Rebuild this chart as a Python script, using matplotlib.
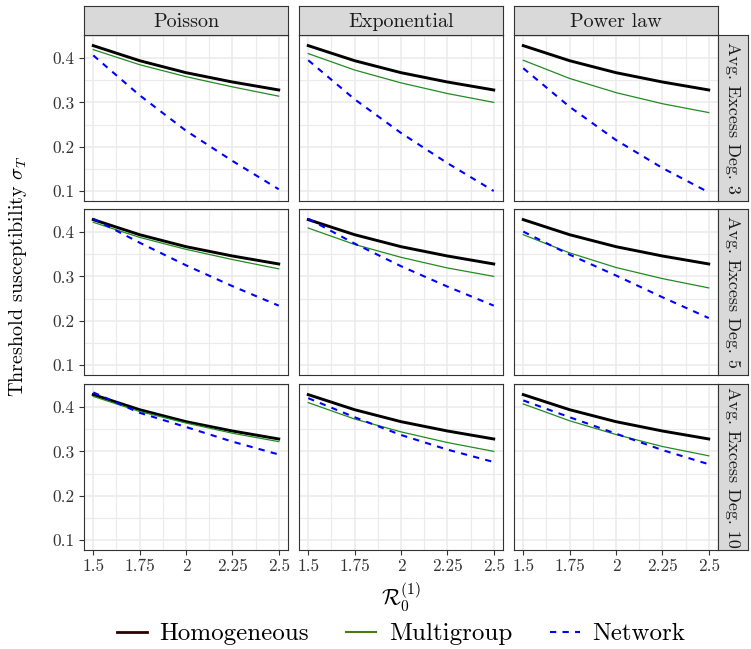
import matplotlib
matplotlib.use("Agg")
import matplotlib.pyplot as plt
from matplotlib.lines import Line2D

plt.rcParams['font.family'] = ['cmr10', 'DejaVu Serif']
plt.rcParams['mathtext.fontset'] = 'cm'
plt.rcParams['axes.unicode_minus'] = False

# ---------------- data ----------------
r0 = [1.5, 1.75, 2.0, 2.25, 2.5]
distributions = ["Poisson", "Exponential", "Power law"]
degrees = ["Avg. Excess Deg. 3", "Avg. Excess Deg. 5", "Avg. Excess Deg. 10"]

homogeneous = [0.428, 0.394, 0.367, 0.346, 0.328]

mg_poi_3 = [0.419, 0.385, 0.358, 0.335, 0.314]
net_poi_3 = [0.406, 0.316, 0.236, 0.168, 0.104]
mg_exp_3 = [0.410, 0.373, 0.344, 0.320, 0.300]
net_exp_3 = [0.395, 0.307, 0.231, 0.163, 0.100]
mg_pow_3 = [0.395, 0.354, 0.322, 0.297, 0.277]
net_pow_3 = [0.377, 0.290, 0.215, 0.152, 0.097]

mg_poi_5 = [0.422, 0.388, 0.361, 0.338, 0.317]
net_poi_5 = [0.430, 0.376, 0.325, 0.278, 0.234]
mg_exp_5 = [0.409, 0.372, 0.343, 0.319, 0.300]
net_exp_5 = [0.430, 0.374, 0.323, 0.277, 0.234]
mg_pow_5 = [0.394, 0.353, 0.320, 0.295, 0.274]
net_pow_5 = [0.401, 0.349, 0.302, 0.253, 0.206]

mg_poi_10 = [0.424, 0.390, 0.364, 0.341, 0.322]
net_poi_10 = [0.433, 0.387, 0.355, 0.322, 0.293]
mg_exp_10 = [0.410, 0.373, 0.344, 0.320, 0.300]
net_exp_10 = [0.420, 0.377, 0.337, 0.304, 0.276]
mg_pow_10 = [0.407, 0.369, 0.338, 0.311, 0.290]
net_pow_10 = [0.415, 0.377, 0.340, 0.303, 0.271]

multigroup = [[mg_poi_3, mg_exp_3, mg_pow_3],
              [mg_poi_5, mg_exp_5, mg_pow_5],
              [mg_poi_10, mg_exp_10, mg_pow_10]]
network = [[net_poi_3, net_exp_3, net_pow_3],
           [net_poi_5, net_exp_5, net_pow_5],
           [net_poi_10, net_exp_10, net_pow_10]]

x_ticks = [1.5, 1.75, 2.0, 2.25, 2.5]
x_ticklabels = ["1.5", "1.75", "2", "2.25", "2.5"]
y_ticks = [0.1, 0.2, 0.3, 0.4]
y_ticklabels = ["0.1", "0.2", "0.3", "0.4"]
legend_labels = ["Homogeneous", "Multigroup", "Network"]

# ---------------- layout ----------------
W, H = 751, 649
fig = plt.figure(figsize=(W / 100, H / 100), dpi=100)

col_left = [84, 299, 514]
pw = 204
row_top = [35, 209, 384]
ph = 166
strip_h = 29
strip_w = 30

def rect(left, top, w, h):
    return [left / W, 1 - (top + h) / H, w / W, h / H]

edge = '#333333'
grid_c = '#EBEBEB'

for r in range(3):
    for c in range(3):
        ax = fig.add_axes(rect(col_left[c], row_top[r], pw, ph))
        ax.set_xlim(1.45, 2.55)
        ax.set_ylim(0.0775, 0.452)
        ax.set_xticks(x_ticks)
        ax.set_yticks(y_ticks)
        ax.set_xticks([1.625, 1.875, 2.125, 2.375], minor=True)
        ax.set_yticks([0.15, 0.25, 0.35, 0.45], minor=True)
        ax.grid(True, which='major', color=grid_c, lw=1.1, zorder=0)
        ax.grid(True, which='minor', color=grid_c, lw=0.8, zorder=0)
        ax.set_axisbelow(True)
        for s in ax.spines.values():
            s.set_color(edge)
            s.set_linewidth(0.8)
        ax.tick_params(which='minor', length=0)
        ax.tick_params(which='major', length=3.5, width=0.8, color=edge,
                       labelsize=12.5, labelcolor='#333333', pad=3)
        if c == 0:
            ax.set_yticklabels(y_ticklabels)
        else:
            ax.tick_params(axis='y', length=0, labelleft=False)
        if r == 2:
            ax.set_xticklabels(x_ticklabels)
        else:
            ax.tick_params(axis='x', length=0, labelbottom=False)

        ax.plot(r0, homogeneous, color='black', lw=2.1, zorder=3,
                solid_joinstyle='round')
        ax.plot(r0, multigroup[r][c], color='#228B22', lw=0.9, zorder=3,
                solid_joinstyle='round')
        ln, = ax.plot(r0, network[r][c], color='#0000FF', lw=1.5, zorder=4)
        ln.set_dashes([3, 3])

        # top strips
        if r == 0:
            sax = fig.add_axes(rect(col_left[c], row_top[0] - strip_h, pw, strip_h))
            sax.set_facecolor('#D9D9D9')
            sax.set_xticks([]); sax.set_yticks([])
            for s in sax.spines.values():
                s.set_color(edge); s.set_linewidth(0.8)
            sax.text(0.5, 0.45, distributions[c], ha='center', va='center',
                     fontsize=14.5, color='#1A1A1A', transform=sax.transAxes)
        # right strips
        if c == 2:
            sax = fig.add_axes(rect(col_left[2] + pw, row_top[r], strip_w, ph))
            sax.set_facecolor('#D9D9D9')
            sax.set_xticks([]); sax.set_yticks([])
            for s in sax.spines.values():
                s.set_color(edge); s.set_linewidth(0.8)
            sax.text(0.5, 0.5, degrees[r], ha='center', va='center',
                     rotation=-90, fontsize=13, color='#1A1A1A',
                     transform=sax.transAxes)

# axis titles
fig.text(401 / W, 1 - 597 / H, r'$\mathcal{R}_0^{(1)}$', ha='center', va='center',
         fontsize=16)
fig.text(18 / W, 1 - 276 / H, r'Threshold susceptibility $\sigma_T$', ha='center',
         va='center', rotation=90, fontsize=14.5)

# legend
handles = [Line2D([], [], color='#2B0000', lw=2.0),
           Line2D([], [], color='#4B7A14', lw=1.5),
           Line2D([], [], color='#0000FF', lw=1.5, dashes=[3, 3])]
fig.legend(handles, legend_labels, loc='center', bbox_to_anchor=(401 / W, 1 - 634 / H),
           ncol=3, frameon=False, fontsize=18, handlelength=1.2,
           handletextpad=0.5, columnspacing=1.5)

fig.savefig('out.png', dpi=100)
